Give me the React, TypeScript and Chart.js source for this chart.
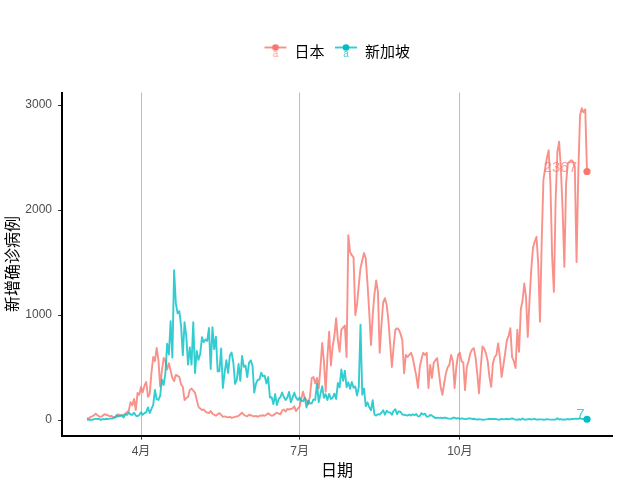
import { useEffect, useRef } from 'react';
import { Chart, registerables } from 'chart.js';

Chart.register(...registerables);

// ---- data ----
const startDate = '2020-03-01';
const seriesNames = ['日本', '新加坡'];
const xTickDates = ['2020-04-01', '2020-07-01', '2020-10-01'];
const xTickLabels = ['4月', '7月', '10月'];
const yTicks = [0, 1000, 2000, 3000];
const xTitle = '日期';
const yTitle = '新增确诊病例';

// daily new cases, 2020-03-01 .. 2020-12-13
const japanCases = [
  // Mar
  20, 14, 30, 35, 45, 60, 45, 35, 30, 40, 55, 50, 45, 35, 40, 25, 30, 30, 55, 45,
  40, 50, 60, 75, 90, 170, 140, 200, 95, 257, 240,
  // Apr
  315, 265, 330, 362, 220, 250, 450, 600, 560, 686, 570, 320, 470, 590, 560, 480, 540, 470, 400, 370,
  430, 420, 410, 340, 315, 190, 210, 220, 285, 300,
  // May
  280, 260, 190, 125, 110, 95, 100, 80, 70, 65, 85, 60, 50, 40, 55, 65, 50, 30, 35, 30,
  25, 30, 20, 25, 30, 35, 40, 55, 70, 50, 40,
  // Jun
  35, 50, 45, 40, 35, 40, 30, 40, 40, 45, 40, 50, 65, 50, 40, 45, 60, 70, 60, 55,
  90, 100, 80, 105, 100, 105, 110, 130, 85, 110,
  // Jul
  125, 200, 270, 210, 190, 150, 230, 400, 410, 350, 400, 300, 500, 733, 560, 270, 600, 840, 520, 700,
  800, 970, 760, 650, 860, 880, 900, 600, 1760, 1600, 1570,
  // Aug
  1550, 1000, 1100, 1285, 1450, 1520, 1590, 1540, 1300, 1030, 715, 1000, 1200, 1330, 1220, 640, 900, 1120, 1160, 1100,
  950, 730, 505, 700, 860, 875, 860, 820, 760, 445, 620,
  // Sep
  600, 620, 640, 590, 505, 420, 305, 505, 580, 640, 620, 640, 305, 525, 400, 545, 570, 590, 450, 315,
  240, 350, 445, 500, 525, 620, 560, 305, 505, 620,
  // Oct
  640, 560, 545, 285, 505, 560, 635, 670, 685, 600, 445, 255, 505, 700, 680, 635, 560, 410, 315, 540,
  600, 620, 730, 600, 410, 520, 635, 760, 800, 875, 600,
  // Nov
  560, 495, 860, 650, 1050, 1140, 1300, 1170, 790, 1140, 1430, 1640, 1700, 1745, 1490, 935, 1700, 2290, 2400, 2500,
  2570, 2250, 1550, 1220, 2095, 2555, 2650, 2400, 2000, 1460,
  // Dec
  2255, 2445, 2460, 2475, 2460, 2410, 1505, 2350, 2900, 2970, 2930, 2960, 2367,
];

const singaporeCases = [
  // Mar
  2, 2, 2, 2, 7, 13, 8, 12, 0, 10, 6, 12, 9, 13, 14, 17, 23, 47, 32, 40,
  47, 23, 54, 49, 73, 52, 49, 70, 42, 35, 47,
  // Apr
  74, 49, 65, 75, 120, 66, 106, 142, 287, 198, 191, 233, 386, 334, 447, 728, 623, 942, 596, 1426,
  1111, 1016, 1037, 897, 618, 931, 799, 528, 690, 528,
  // May
  932, 447, 657, 573, 632, 788, 741, 768, 753, 876, 486, 884, 675, 793, 465, 465, 682, 305, 451, 570,
  448, 614, 642, 548, 344, 383, 533, 373, 611, 506, 518,
  // Jun
  408, 544, 569, 517, 261, 347, 383, 386, 451, 417, 422, 347, 407, 214, 218, 151, 247, 142, 199, 218,
  262, 218, 191, 213, 268, 169, 213, 260, 213, 191,
  // Jul
  215, 185, 179, 213, 119, 183, 157, 158, 196, 191, 347, 170, 248, 322, 211, 245, 190, 249, 200, 212,
  251, 200, 354, 310, 481, 374, 469, 313, 359, 297, 362,
  // Aug
  307, 320, 232, 313, 908, 242, 300, 132, 167, 123, 93, 188, 50, 42, 56, 52, 69, 93, 51, 88,
  74, 71, 50, 87, 103, 56, 83, 77, 52, 50, 47,
  // Sep
  42, 52, 42, 55, 47, 57, 34, 37, 66, 51, 60, 32, 32, 48, 41, 30, 18, 21, 20, 21,
  18, 23, 21, 15, 13, 11, 21, 22, 14, 17,
  // Oct
  11, 16, 13, 8, 10, 16, 15, 10, 12, 7, 5, 7, 6, 3, 4, 6, 8, 12, 9, 10,
  11, 8, 5, 3, 11, 6, 9, 9, 7, 10, 16,
  // Nov
  9, 4, 3, 7, 3, 15, 4, 5, 6, 10, 4, 8, 10, 4, 5, 6, 6, 3, 5, 9,
  6, 4, 4, 4, 5, 17, 5, 8, 3, 6,
  // Dec
  4, 10, 5, 9, 9, 13, 12, 11, 15, 11, 9, 13, 7,
];

const seriesValues = [japanCases, singaporeCases];
const solidColors = ['#F8766D', '#00BFC4'];
const lineColors = ['rgba(248,118,109,0.8)', 'rgba(0,191,196,0.8)'];
const labelColors = ['rgba(248,118,109,0.7)', 'rgba(0,191,196,0.75)'];

const dayIndex = (d: string) =>
  Math.round((Date.parse(d) - Date.parse(startDate)) / 86400000);

const CJK = '"Noto Sans CJK SC", "Noto Sans", sans-serif';
const TICKFONT = '"Liberation Sans", Arial, "Noto Sans CJK SC", sans-serif';

function makeIcon(i: number): HTMLCanvasElement {
  const c = document.createElement('canvas');
  c.width = 24;
  c.height = 16;
  const g = c.getContext('2d')!;
  g.strokeStyle = lineColors[i];
  g.lineWidth = 1.9;
  g.beginPath();
  g.moveTo(1, 4.5);
  g.lineTo(23, 4.5);
  g.stroke();
  g.fillStyle = solidColors[i];
  g.beginPath();
  g.arc(12, 4.5, 3.3, 0, Math.PI * 2);
  g.fill();
  g.fillStyle = labelColors[i];
  g.font = '10px "Liberation Sans", Arial, sans-serif';
  g.textAlign = 'center';
  g.textBaseline = 'alphabetic';
  g.fillText('a', 12, 13.5);
  return c;
}

const endLabelPlugin = {
  id: 'endLabels',
  afterDatasetsDraw(chart: any) {
    const ctx = chart.ctx;
    chart.data.datasets.forEach((ds: any, i: number) => {
      const meta = chart.getDatasetMeta(i);
      const pt = meta.data[meta.data.length - 1];
      const value = ds.data[ds.data.length - 1].y;
      const text = String(value);
      ctx.save();
      ctx.font = '15px "Liberation Sans", Arial, sans-serif';
      const w = ctx.measureText(text).width;
      ctx.fillStyle = labelColors[i];
      ctx.textAlign = 'left';
      ctx.textBaseline = 'middle';
      ctx.fillText(text, pt.x - 1.3 * w, pt.y - 4);
      ctx.restore();
    });
  },
};

export default function App() {
  const ref = useRef<HTMLCanvasElement | null>(null);

  useEffect(() => {
    if (!ref.current) return;
    const n = japanCases.length;
    const xMin = -0.05 * (n - 1);
    const xMax = n - 1 + 0.05 * (n - 1);
    const allVals = [...japanCases, ...singaporeCases];
    const vMax = Math.max(...allVals);
    const vMin = Math.min(...allVals);
    const span = vMax - vMin;
    const yMin = vMin - 0.05 * span;
    const yMax = vMax + 0.05 * span;
    const icons = [makeIcon(0), makeIcon(1)];

    const datasets = seriesNames.map((name, i) => {
      const vals = seriesValues[i];
      return {
        label: name,
        data: vals.map((v, k) => ({ x: k, y: v })),
        borderColor: lineColors[i],
        backgroundColor: solidColors[i],
        borderWidth: 1.9,
        borderJoinStyle: 'round' as const,
        tension: 0,
        fill: false,
        order: i === 0 ? 2 : 1,
        pointRadius: (c: any) => (c.dataIndex === vals.length - 1 ? 3.6 : 0),
        pointBackgroundColor: solidColors[i],
        pointBorderWidth: 0,
        pointHoverRadius: 0,
      };
    });

    const chart = new Chart(ref.current, {
      type: 'line',
      data: { datasets },
      plugins: [endLabelPlugin],
      options: {
        responsive: false,
        animation: false,
        devicePixelRatio: 1,
        events: [],
        layout: { padding: { top: 33.5, right: 28, bottom: 0, left: 0 } },
        plugins: {
          tooltip: { enabled: false },
          title: {
            display: true,
            text: '',
            position: 'top',
            fullSize: false,
            weight: 500,
            font: { size: 10, lineHeight: 1 },
            padding: { top: 0, bottom: 14.1 },
          },
          legend: {
            display: true,
            position: 'top',
            fullSize: false,
            weight: 1000,
            labels: {
              usePointStyle: true,
              pointStyleWidth: 23,
              padding: 10,
              color: '#000',
              font: { size: 15, family: CJK },
              generateLabels: () =>
                seriesNames.map((name, i) => ({
                  text: name,
                  fillStyle: solidColors[i],
                  strokeStyle: solidColors[i],
                  lineWidth: 0,
                  pointStyle: icons[i] as any,
                  hidden: false,
                  datasetIndex: i,
                  fontColor: '#000',
                })),
            },
          },
        },
        scales: {
          x: {
            type: 'linear',
            min: xMin,
            max: xMax,
            afterBuildTicks: (s: any) => {
              s.ticks = xTickDates.map((d) => ({ value: dayIndex(d) }));
            },
            afterFit: (s: any) => {
              s.height = 44.4;
            },
            grid: {
              display: true,
              drawOnChartArea: true,
              color: '#bdbdbd',
              lineWidth: 1,
              tickColor: '#333333',
              tickLength: 4,
            },
            border: { display: true, color: '#000', width: 2 },
            ticks: {
              autoSkip: false,
              maxRotation: 0,
              padding: 5,
              color: '#4d4d4d',
              font: { size: 12, family: TICKFONT },
              callback: (_v: any, idx: number) => xTickLabels[idx],
            },
            title: {
              display: true,
              text: xTitle,
              color: '#000',
              font: { size: 16, family: CJK },
              padding: { top: 0, bottom: 0 },
            },
          },
          y: {
            type: 'linear',
            min: yMin,
            max: yMax,
            afterBuildTicks: (s: any) => {
              s.ticks = yTicks.map((v) => ({ value: v }));
            },
            afterFit: (s: any) => {
              s.width = 62;
            },
            grid: {
              display: true,
              drawOnChartArea: false,
              tickColor: '#333333',
              tickLength: 4,
              lineWidth: 1,
            },
            border: { display: true, color: '#000', width: 2 },
            ticks: {
              padding: 6,
              color: '#4d4d4d',
              font: { size: 12, family: TICKFONT },
              callback: (v: any) => String(v),
            },
            title: {
              display: true,
              text: yTitle,
              color: '#000',
              font: { size: 16, family: CJK },
              padding: { top: 2, bottom: 0 },
            },
          },
        },
      } as any,
    });
    return () => chart.destroy();
  }, []);

  return (
    <div style={{ position: 'fixed', left: 0, top: 0, width: 640, height: 480, background: '#fff' }}>
      <canvas ref={ref} width={640} height={480} style={{ display: 'block', width: 640, height: 480 }} />
    </div>
  );
}
